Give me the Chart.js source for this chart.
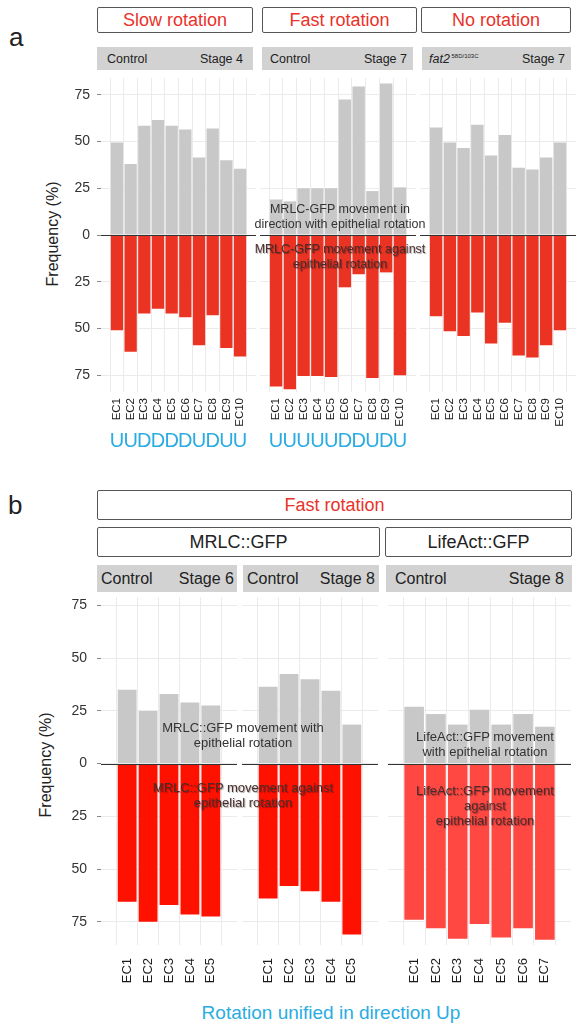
<!DOCTYPE html>
<html><head><meta charset="utf-8">
<script src="https://cdn.jsdelivr.net/npm/chart.js@4.4.1/dist/chart.umd.min.js"></script>
<style>
html,body{margin:0;padding:0;background:#fff;}
body{width:576px;height:1023px;position:relative;overflow:hidden;font-family:"Liberation Sans",Arial,Helvetica,sans-serif;}
.box{position:absolute;box-sizing:border-box;border:1.5px solid #555;border-radius:2px;background:#fff;display:flex;align-items:center;justify-content:center;font-size:18px;color:#222;}
.red{color:#e8322a;}
.strip{position:absolute;background:#d2d2d2;display:flex;align-items:center;justify-content:space-between;box-sizing:border-box;color:#222;white-space:nowrap;}
.note{position:absolute;z-index:10;text-align:center;color:#333;line-height:15px;white-space:nowrap;transform:translateX(-50%);}
.against{color:#4a2c2c;text-shadow:1px 1px 1px rgba(0,0,0,0.35);}
.ytitle{position:absolute;white-space:nowrap;font-size:16px;color:#222;transform:translate(-50%,-50%) rotate(-90deg);}
.plab{position:absolute;font-size:26px;color:#222;line-height:30px;}
canvas{position:absolute;z-index:1;}
</style></head>
<body>
<div class="plab" style="left:9px;top:22px;">a</div>
<div class="plab" style="left:8px;top:490px;">b</div>

<div class="box red" style="left:97px;top:7px;width:156px;height:26px;">Slow rotation</div>
<div class="box red" style="left:262px;top:7px;width:155px;height:26px;">Fast rotation</div>
<div class="box red" style="left:421px;top:7px;width:150px;height:26px;">No rotation</div>

<div class="strip" style="left:97px;top:47px;width:156px;height:23px;font-size:12.5px;padding:0 10px 0 10px;"><span>Control</span><span>Stage 4</span></div>
<div class="strip" style="left:262px;top:47px;width:151px;height:23px;font-size:12.5px;padding:0 6px 0 8px;"><span>Control</span><span>Stage 7</span></div>
<div class="strip" style="left:422px;top:47px;width:149px;height:23px;font-size:12.5px;padding:0 6px 0 7px;"><span><i>fat2</i><sup style="font-size:6px;vertical-align:5px;"> 58D/103C</sup></span><span>Stage 7</span></div>

<div class="ytitle" style="left:53px;top:234px;">Frequency (%)</div>
<div class="ytitle" style="left:46px;top:765px;">Frequency (%)</div>

<div class="box red" style="left:97px;top:490px;width:475px;height:30px;">Fast rotation</div>
<div class="box" style="left:97px;top:527px;width:283px;height:30px;">MRLC::GFP</div>
<div class="box" style="left:385px;top:527px;width:187px;height:30px;">LifeAct::GFP</div>

<div class="strip" style="left:97px;top:565px;width:140px;height:27px;font-size:16px;padding:0 3px 0 4px;"><span>Control</span><span>Stage 6</span></div>
<div class="strip" style="left:243px;top:565px;width:136px;height:27px;font-size:16px;padding:0 4px 0 4px;"><span>Control</span><span>Stage 8</span></div>
<div class="strip" style="left:386px;top:565px;width:186px;height:27px;font-size:16px;padding:0 8px 0 9px;"><span>Control</span><span>Stage 8</span></div>

<div class="note" style="left:340px;top:202px;font-size:12.5px;">MRLC-GFP movement in<br>direction with epithelial rotation</div>
<div class="note against" style="left:340px;top:242px;font-size:12.5px;">MRLC-GFP movement against<br>epithelial rotation</div>

<div class="note" style="left:243px;top:720px;font-size:13px;">MRLC::GFP movement with<br>epithelial rotation</div>
<div class="note against" style="left:243px;top:780px;font-size:13px;">MRLC::GFP movement against<br>epithelial rotation</div>
<div class="note" style="left:485px;top:729px;font-size:13px;">LifeAct::GFP movement<br>with epithelial rotation</div>
<div class="note against" style="left:485px;top:783px;font-size:13px;">LifeAct::GFP movement<br>against<br>epithelial rotation</div>

<div style="position:absolute;left:331px;top:1013px;transform:translate(-50%,-50%);font-size:19px;color:#2aace2;white-space:nowrap;">Rotation unified in direction Up</div>

<script>
// ---- data ----
const labelsA = ['EC1','EC2','EC3','EC4','EC5','EC6','EC7','EC8','EC9','EC10'];
const slowWith    = [49.5, 38, 58.5, 61.5, 58.5, 56.5, 41.5, 57, 40, 35.5];
const slowAgainst = [51, 62.5, 42, 39.5, 42, 44, 59, 43, 60.5, 65];
const fastWith    = [19, 18, 25, 25, 25, 72.5, 79.5, 23.5, 81, 25.5];
const fastAgainst = [81, 82.5, 75.5, 75.5, 76, 28, 21, 76.5, 20, 75];
const noWith      = [57.5, 49.5, 46.5, 59, 42.5, 53.5, 36, 35, 41.5, 49.5];
const noAgainst   = [43.5, 51.5, 54, 41.5, 58, 47, 64.5, 65.5, 59, 51];
const slowDir = ['U','U','D','D','D','D','U','D','U','U'];
const fastDir = ['U','U','U','U','U','D','D','U','D','U'];

const labelsB5 = ['EC1','EC2','EC3','EC4','EC5'];
const labelsB7 = ['EC1','EC2','EC3','EC4','EC5','EC6','EC7'];
const st6With    = [35, 25, 33, 29, 27.5];
const st6Against = [65.5, 75, 67, 71.5, 72.5];
const st8With    = [36.5, 42.5, 40, 34.5, 18.5];
const st8Against = [64, 58, 60.5, 65.5, 81];
const laWith     = [27, 23.5, 18.5, 25.5, 18.5, 23.5, 17.5];
const laAgainst  = [74, 78, 83, 76, 82.5, 78, 83.5];

const yTickValues = [-75, -50, -25, 0, 25, 50, 75];

// ---- drawing ----
const FF = '"Liberation Sans", Arial, Helvetica, sans-serif';
Chart.defaults.font.family = FF;
const GREY = '#c8c8c8';

const zeroLine = {
  id: 'zeroLine',
  afterDatasetsDraw(chart) {
    const y = Math.round(chart.scales.y.getPixelForValue(0)) + 0.5;
    const a = chart.chartArea, ctx = chart.ctx;
    ctx.save();
    ctx.strokeStyle = '#333';
    ctx.lineWidth = 1;
    ctx.beginPath(); ctx.moveTo(a.left, y); ctx.lineTo(a.right, y); ctx.stroke();
    ctx.restore();
  }
};
const dirPlugin = {
  id: 'dirLetters',
  afterDraw(chart, args, opts) {
    if (!opts || !opts.letters) return;
    const ctx = chart.ctx, xs = chart.scales.x;
    ctx.save();
    ctx.fillStyle = '#2aace2';
    ctx.font = '20px ' + FF;
    ctx.textAlign = 'center';
    ctx.textBaseline = 'middle';
    opts.letters.forEach((l, i) => {
      ctx.fillText(l, xs.getPixelForValue(i), chart.chartArea.bottom + opts.offset);
    });
    ctx.restore();
  }
};

function facet(o) {
  const c = document.createElement('canvas');
  const W = o.plotRight - o.left, H = o.plotH + o.xH;
  c.width = W; c.height = H;
  c.style.left = o.left + 'px'; c.style.top = o.top + 'px';
  c.style.width = W + 'px'; c.style.height = H + 'px';
  document.body.appendChild(c);
  const yW = o.plotLeft - o.left;
  const n = o.labels.length;
  new Chart(c, {
    type: 'bar',
    data: {
      datasets: [
        { data: o.withV.map((v, i) => ({x: i, y: v})), backgroundColor: GREY, borderWidth: 0,
          categoryPercentage: 1, barPercentage: 0.9 },
        { data: o.againstV.map((v, i) => ({x: i, y: -v})), backgroundColor: o.red, borderWidth: 0,
          categoryPercentage: 1, barPercentage: 0.9 }
      ]
    },
    options: {
      responsive: false, animation: false, devicePixelRatio: 1,
      layout: { padding: 0 },
      plugins: { legend: { display: false }, tooltip: { enabled: false },
                 dirLetters: { letters: o.dirs || null, offset: o.dirOffset || 0 } },
      scales: {
        x: {
          type: 'linear', min: -0.6, max: n - 0.4, stacked: true, position: 'bottom',
          afterBuildTicks: s => { s.ticks = o.labels.map((_, i) => ({ value: i })); },
          afterFit: s => { s.height = o.xH; s.paddingLeft = 0; s.paddingRight = 0; },
          ticks: { autoSkip: false, minRotation: 90, maxRotation: 90, padding: o.xPad,
                   font: { size: o.xFont, family: FF }, color: '#1a1a1a',
                   callback: v => o.labels[Math.round(v)] },
          grid: { color: '#ebebeb', drawTicks: false, lineWidth: 1 },
          border: { display: false }
        },
        y: {
          min: o.yMin, max: o.yMax, stacked: true,
          afterBuildTicks: s => { s.ticks = yTickValues.map(v => ({ value: v })); },
          afterFit: s => { s.width = yW; s.paddingTop = 0; s.paddingBottom = 0; },
          ticks: { display: o.yLabels, padding: o.tickPad || 6, font: { size: 14, family: FF }, color: '#333',
                   callback: v => String(Math.abs(v)) },
          grid: { color: '#ebebeb', drawTicks: o.yLabels, tickLength: 4, tickColor: '#888', lineWidth: 1 },
          border: { display: false }
        }
      }
    },
    plugins: [zeroLine, dirPlugin]
  });
}

const A = { top: 78, plotH: 314, xH: 62, yMin: -84, yMax: 84, xFont: 11.5, xPad: 6, red: '#ea3323', dirOffset: 49 };
facet(Object.assign({}, A, { left: 40, plotLeft: 101, plotRight: 256, yLabels: true, tickPad: 7,
  labels: labelsA, withV: slowWith, againstV: slowAgainst, dirs: slowDir }));
facet(Object.assign({}, A, { left: 260, plotLeft: 260, plotRight: 416, yLabels: false,
  labels: labelsA, withV: fastWith, againstV: fastAgainst, dirs: fastDir }));
facet(Object.assign({}, A, { left: 420, plotLeft: 420, plotRight: 576, yLabels: false,
  labels: labelsA, withV: noWith, againstV: noAgainst }));

const B = { top: 597, plotH: 348, xH: 45, yMin: -86, yMax: 79, xFont: 13, xPad: 13 };
facet(Object.assign({}, B, { left: 40, plotLeft: 101, plotRight: 237, yLabels: true, tickPad: 10, red: '#ff1100',
  labels: labelsB5, withV: st6With, againstV: st6Against }));
facet(Object.assign({}, B, { left: 242, plotLeft: 242, plotRight: 378, yLabels: false, red: '#ff1100',
  labels: labelsB5, withV: st8With, againstV: st8Against }));
facet(Object.assign({}, B, { left: 388, plotLeft: 388, plotRight: 571, yLabels: false, red: '#ff4842',
  labels: labelsB7, withV: laWith, againstV: laAgainst }));
</script>
</body></html>
